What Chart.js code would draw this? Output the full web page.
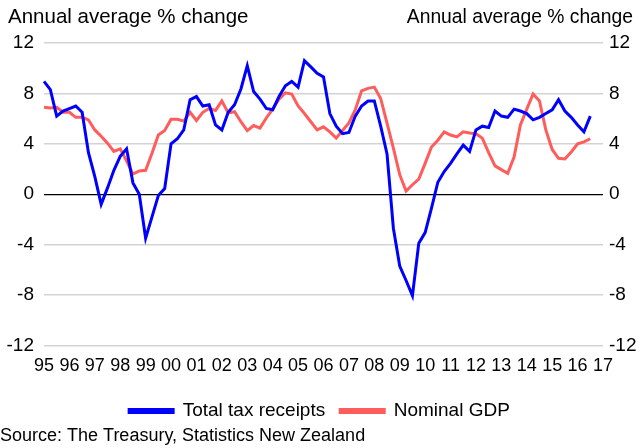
<!DOCTYPE html>
<html>
<head>
<meta charset="utf-8">
<script src="https://cdn.jsdelivr.net/npm/chart.js@4/dist/chart.umd.min.js"></script>
<style>
  html, body { margin: 0; padding: 0; background: #ffffff; }
  #wrap { width: 639px; height: 448px; }
</style>
</head>
<body>
<div id="wrap"><canvas id="c" width="639" height="448"></canvas></div>
<script>
// Year tick labels (shown at each Q1)
const yearLabels = ['95','96','97','98','99','00','01','02','03','04','05','06','07','08','09','10','11','12','13','14','15','16','17'];

// Quarterly series, 1995Q1 onwards (annual average % change)
const totalTaxReceipts = [
  8.95, 8.3, 6.2, 6.6, 6.8, 7.0, 6.5, 3.3, 1.4, -0.8,
  0.5, 1.9, 3.0, 3.6, 0.9, 0.0, -3.5, -1.8, -0.1, 0.45,
  4.0, 4.4, 5.1, 7.5, 7.75, 7.0, 7.1, 5.5, 5.1, 6.5,
  7.1, 8.35, 10.2, 8.15, 7.55, 6.8, 6.7, 7.75, 8.6, 8.95,
  8.5, 10.6, 10.1, 9.6, 9.3, 6.4, 5.4, 4.8, 4.9, 6.2,
  7.0, 7.4, 7.4, 5.4, 3.2, -2.7, -5.7, -6.85, -8.05, -3.9,
  -3.05, -1.1, 0.95, 1.8, 2.45, 3.2, 3.9, 3.4, 5.1, 5.4,
  5.3, 6.6, 6.2, 6.1, 6.75, 6.6, 6.4, 5.9, 6.1, 6.4,
  6.7, 7.5, 6.6, 6.1, 5.5, 4.95, 6.2
];
const nominalGDP = [
  6.9, 6.85, 6.9, 6.5, 6.5, 6.1, 6.1, 5.9, 5.1, 4.6,
  4.05, 3.4, 3.6, 2.65, 1.6, 1.85, 1.9, 3.25, 4.7, 5.05,
  5.95, 5.95, 5.8, 6.5, 5.85, 6.5, 6.8, 6.65, 7.4, 6.45,
  6.55, 5.75, 5.05, 5.45, 5.25, 6.05, 6.75, 7.55, 8.05, 7.95,
  7.0, 6.4, 5.75, 5.1, 5.35, 4.95, 4.45, 5.05, 5.65, 6.7,
  8.2, 8.4, 8.5, 7.6, 5.65, 3.65, 1.55, 0.25, 0.75, 1.2,
  2.45, 3.75, 4.28, 4.95, 4.7, 4.55, 4.95, 4.85, 4.8, 4.45,
  3.3, 2.25, 1.95, 1.65, 2.95, 5.5, 6.75, 7.95, 7.4, 5.1,
  3.55, 2.85, 2.8, 3.35, 4.0, 4.15, 4.4
];

const yTicks = [-12, -8, -4, 0, 4, 8, 12];
const axisTitle = 'Annual average % change';
const seriesNames = ['Total tax receipts', 'Nominal GDP'];
const sourceText = 'Source: The Treasury, Statistics New Zealand';

// Category list: one entry per quarter from 1995Q1 to 2017Q1
const categories = [];
yearLabels.forEach((y, i) => {
  const quarters = (i === yearLabels.length - 1) ? 1 : 4;
  for (let q = 1; q <= quarters; q++) categories.push(y + 'Q' + q);
});

const FONT = '"Liberation Sans", Arial, sans-serif';
const TXT = '#000000';

const headerPlugin = {
  id: 'headers',
  afterDraw(chart) {
    const ctx = chart.ctx;
    ctx.save();
    ctx.fillStyle = TXT;
    ctx.textBaseline = 'alphabetic';
    ctx.font = '20.5px ' + FONT;
    ctx.textAlign = 'left';
    ctx.fillText(axisTitle, 8, 23);
    ctx.font = '19.3px ' + FONT;
    ctx.textAlign = 'right';
    ctx.fillText(axisTitle, 633, 23);
    ctx.restore();
  }
};

new Chart(document.getElementById('c'), {
  type: 'line',
  data: {
    labels: categories,
    datasets: [
      {
        label: seriesNames[0],
        data: totalTaxReceipts,
        borderColor: '#0000FF',
        backgroundColor: '#0000FF',
        borderWidth: 3,
        pointRadius: 0,
        tension: 0,
        yAxisID: 'y'
      },
      {
        label: seriesNames[1],
        data: nominalGDP,
        borderColor: '#FF5C5C',
        backgroundColor: '#FF5C5C',
        borderWidth: 3,
        pointRadius: 0,
        tension: 0,
        yAxisID: 'y'
      }
    ]
  },
  options: {
    responsive: false,
    animation: false,
    events: [],
    layout: { padding: { top: 43, left: 0, right: 0, bottom: 1 } },
    plugins: {
      tooltip: { enabled: false },
      legend: {
        position: 'bottom',
        align: 'center',
        labels: {
          font: { family: FONT, size: 19 },
          color: TXT,
          boxWidth: 44,
          boxHeight: 3,
          padding: 15
        }
      },
      title: {
        display: true,
        position: 'bottom',
        align: 'start',
        text: sourceText,
        color: TXT,
        font: { family: FONT, size: 18, weight: 'normal' },
        padding: { top: -5, bottom: 0 }
      }
    },
    scales: {
      x: {
        type: 'category',
        offset: false,
        grid: { display: false },
        border: { display: false },
        ticks: {
          autoSkip: false,
          maxRotation: 0,
          minRotation: 0,
          color: TXT,
          font: { family: FONT, size: 18 },
          padding: 2,
          callback: function (val, idx) {
            return idx % 4 === 0 ? yearLabels[idx / 4] : '';
          }
        },
        afterFit(scale) { scale.height = 41; }
      },
      y: {
        position: 'left',
        min: -12,
        max: 12,
        afterBuildTicks(scale) { scale.ticks = yTicks.map(v => ({ value: v })); },
        grid: {
          drawTicks: false,
          color: ctx => (ctx.tick && ctx.tick.value === 0) ? '#000000' : '#D3D3D3',
          lineWidth: ctx => (ctx.tick && ctx.tick.value === 0) ? 1.3 : 1.5
        },
        border: { display: false },
        ticks: {
          color: TXT,
          font: { family: FONT, size: 19 },
          padding: 10
        },
        afterFit(scale) { scale.width = 44; }
      },
      y2: {
        position: 'right',
        min: -12,
        max: 12,
        afterBuildTicks(scale) { scale.ticks = yTicks.map(v => ({ value: v })); },
        grid: { display: false, drawTicks: false },
        border: { display: false },
        ticks: {
          color: TXT,
          font: { family: FONT, size: 19 },
          padding: 6
        },
        afterFit(scale) { scale.width = 36; }
      }
    }
  },
  plugins: [headerPlugin]
});
</script>
</body>
</html>
